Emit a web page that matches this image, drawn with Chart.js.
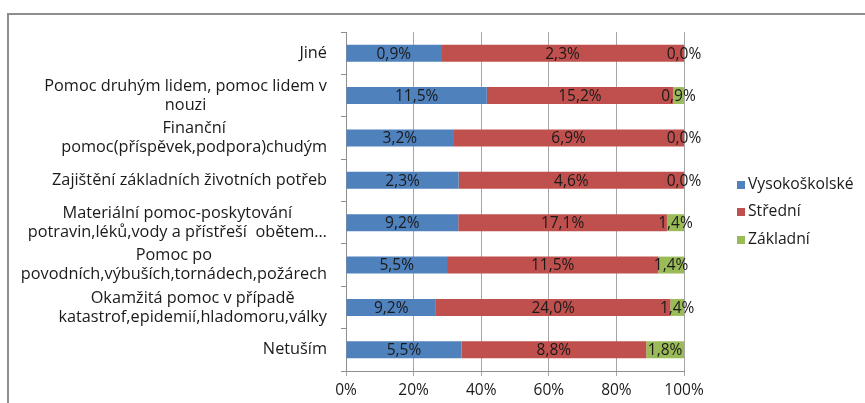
<!DOCTYPE html>
<html>
<head>
<meta charset="utf-8">
<script src="https://cdn.jsdelivr.net/npm/chart.js@4/dist/chart.umd.min.js"></script>
<style>
    body { margin: 0; background: #fff; }
    #wrap { position: relative; width: 865px; height: 403px; }
    #frame { position: absolute; left: 7px; top: 13px; right: 0; bottom: 0; border-left: 2px solid #8e8e8e; border-top: 2px solid #8e8e8e; }
    canvas { position: absolute; left: 0; top: 0; }
</style>
</head>
<body>
<div id="wrap">
    <div id="frame"></div>
    <canvas id="chart" width="865" height="403"></canvas>
</div>
<script>
// Kategorie (shora dolů)
const categories = [
    ['Jiné'],
    ['Pomoc druhým lidem, pomoc lidem v', 'nouzi'],
    ['Finanční', 'pomoc(příspěvek,podpora)chudým'],
    ['Zajištění základních životních potřeb'],
    ['Materiální pomoc-poskytování', 'potravin,léků,vody a přístřeší  obětem…'],
    ['Pomoc po', 'povodních,výbuších,tornádech,požárech'],
    ['Okamžitá pomoc v případě', 'katastrof,epidemií,hladomoru,války'],
    ['Netuším']
];
const seriesNames = ['Vysokoškolské', 'Střední', 'Základní'];
const vysokoskolske = [0.9, 11.5, 3.2, 2.3, 9.2, 5.5, 9.2, 5.5];
const stredni = [2.3, 15.2, 6.9, 4.6, 17.1, 11.5, 24.0, 8.8];
const zakladni = [0.0, 0.9, 0.0, 0.0, 1.4, 1.4, 1.4, 1.8];
const xTicks = [0, 20, 40, 60, 80, 100];
const colors = ['#4f81bd', '#c0504d', '#9bbb59'];

const FONT = '"Open Sans", sans-serif';
const raw = [vysokoskolske, stredni, zakladni];

// podíl v rámci řádku (100% skládaný graf)
const shares = raw.map(arr => arr.map((v, i) => {
    const total = vysokoskolske[i] + stredni[i] + zakladni[i];
    return total ? v / total * 100 : 0;
}));

const formatPct = v => v.toFixed(1).replace('.', ',') + '%';

// popisky kategorií - blok zarovnaný vpravo, řádky na střed
const categoryLabels = {
    id: 'categoryLabels',
    afterDraw(chart) {
        const ctx = chart.ctx;
        const yScale = chart.scales.y;
        const right = chart.chartArea.left - 19;
        const lineH = 19;
        ctx.save();
        ctx.font = '16.3px ' + FONT;
        ctx.fillStyle = '#1a1a1a';
        ctx.textAlign = 'center';
        ctx.textBaseline = 'middle';
        categories.forEach((lines, i) => {
            const y = yScale.getPixelForValue(i);
            const maxW = Math.max(...lines.map(l => ctx.measureText(l).width));
            const cx = right - maxW / 2;
            lines.forEach((l, k) => {
                ctx.fillText(l, cx, y + (k - (lines.length - 1) / 2) * lineH);
            });
        });
        ctx.restore();
    }
};

// hodnoty v pruzích
const dataLabels = {
    id: 'dataLabels',
    afterDatasetsDraw(chart) {
        const ctx = chart.ctx;
        ctx.save();
        ctx.font = '15.5px ' + FONT;
        ctx.fillStyle = '#1a1a1a';
        ctx.textAlign = 'center';
        ctx.textBaseline = 'middle';
        chart.data.datasets.forEach((ds, d) => {
            chart.getDatasetMeta(d).data.forEach((bar, i) => {
                const cx = (bar.x + bar.base) / 2;
                ctx.fillText(formatPct(raw[d][i]), cx, bar.y + 1);
            });
        });
        ctx.restore();
    }
};

// legenda vpravo
const sideLegend = {
    id: 'sideLegend',
    afterDraw(chart) {
        const ctx = chart.ctx;
        const ys = [185, 212, 240];
        ctx.save();
        ctx.font = '15.7px ' + FONT;
        ctx.textBaseline = 'middle';
        ctx.textAlign = 'left';
        seriesNames.forEach((name, i) => {
            ctx.fillStyle = colors[i];
            ctx.fillRect(737, ys[i] - 4, 8, 8);
            ctx.fillStyle = '#1a1a1a';
            ctx.fillText(name, 748, ys[i]);
        });
        ctx.restore();
    }
};

new Chart(document.getElementById('chart'), {
    type: 'bar',
    data: {
        labels: categories,
        datasets: seriesNames.map((name, d) => ({
            label: name,
            data: shares[d],
            backgroundColor: colors[d],
            barPercentage: 0.4,
            categoryPercentage: 1
        }))
    },
    options: {
        indexAxis: 'y',
        responsive: false,
        animation: false,
        layout: { padding: { top: 32, right: 181, left: 0, bottom: 0 } },
        plugins: { legend: { display: false }, tooltip: { enabled: false } },
        scales: {
            x: {
                stacked: true,
                min: 0,
                max: 100,
                afterBuildTicks: scale => { scale.ticks = xTicks.map(v => ({ value: v })); },
                afterFit: scale => { scale.height = 32; },
                ticks: {
                    font: { family: FONT, size: 15.5 },
                    color: '#1a1a1a',
                    padding: 5,
                    callback: v => v + '%'
                },
                grid: { color: '#a6a6a6', tickLength: 5, drawTicks: true },
                border: { color: '#8e8e8e' }
            },
            y: {
                stacked: true,
                afterFit: scale => { scale.width = 346; },
                ticks: { display: false },
                grid: { offset: true, drawOnChartArea: false, color: '#8e8e8e', tickLength: 5 },
                border: { color: '#8e8e8e' }
            }
        }
    },
    plugins: [categoryLabels, dataLabels, sideLegend]
});
</script>
</body>
</html>
